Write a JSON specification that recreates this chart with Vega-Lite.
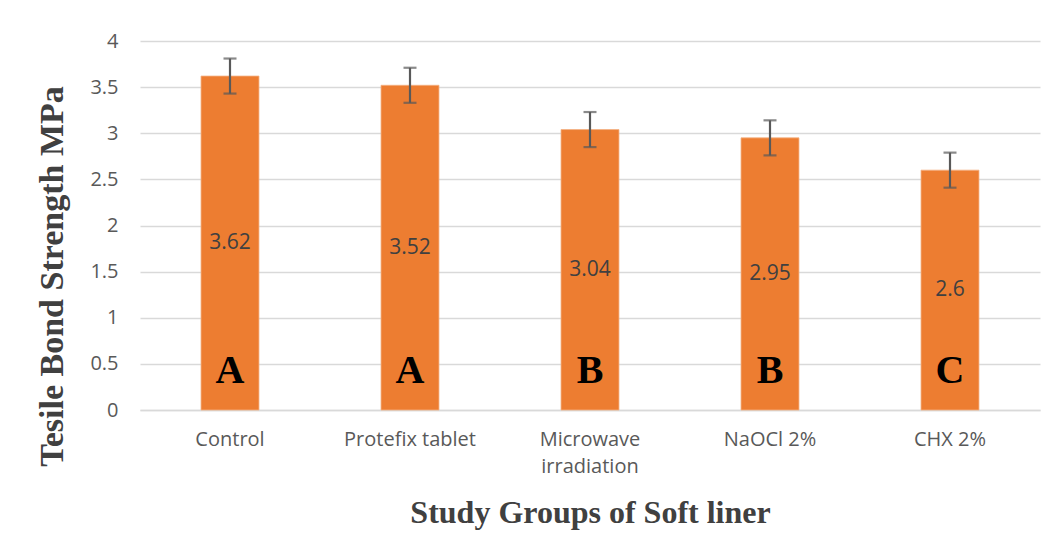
{
  "$schema": "https://vega.github.io/schema/vega-lite/v6.json",
  "autosize": "none",
  "width": 900,
  "height": 369,
  "padding": {"left": 140, "top": 41, "right": 22, "bottom": 145},
  "background": "white",
  "config": {"view": {"stroke": null}},
  "data": {"values": [
    {"group": "Control", "value": 3.62, "err": 0.19, "letter": "A"},
    {"group": "Protefix tablet", "value": 3.52, "err": 0.19, "letter": "A"},
    {"group": "Microwave irradiation", "value": 3.04, "err": 0.19, "letter": "B"},
    {"group": "NaOCl 2%", "value": 2.95, "err": 0.19, "letter": "B"},
    {"group": "CHX 2%", "value": 2.6, "err": 0.19, "letter": "C"}
  ]},
  "resolve": {"scale": {"y": "independent"}},
  "encoding": {
    "x": {
      "field": "group", "type": "nominal", "sort": null,
      "scale": {"paddingInner": 0.678, "paddingOuter": 0.339},
      "axis": {
        "title": "Study Groups of Soft liner",
        "titleFont": "Liberation Serif", "titleFontSize": 32, "titleFontWeight": "bold",
        "titleColor": "#404040", "titleY": 102, "titleBaseline": "middle",
        "labelFont": "Open Sans", "labelFontSize": 20, "labelColor": "#595959",
        "labelAngle": 0, "labelPadding": 19, "labelLineHeight": 27,
        "labelExpr": "datum.label == 'Microwave irradiation' ? ['Microwave', 'irradiation'] : datum.label",
        "ticks": false, "domainColor": "#d9d9d9", "domainWidth": 1.5
      }
    }
  },
  "layer": [
    {
      "mark": {"type": "bar", "color": "#ED7D31", "stroke": "#F4B183", "strokeWidth": 0.8},
      "encoding": {
        "y": {
          "field": "value", "type": "quantitative",
          "scale": {"domain": [0, 4]},
          "axis": {
            "title": "Tesile Bond Strength MPa",
            "titleFont": "Liberation Serif", "titleFontSize": 34, "titleFontWeight": "bold",
            "titleColor": "#404040", "titleX": -88, "titleY": 235, "titleBaseline": "middle", "titleAngle": -90,
            "values": [0, 0.5, 1, 1.5, 2, 2.5, 3, 3.5, 4], "format": "~g",
            "labelFont": "Open Sans", "labelFontSize": 20, "labelColor": "#595959", "labelPadding": 22,
            "ticks": false, "domain": false,
            "gridColor": "#d9d9d9", "gridWidth": 1.5
          }
        }
      }
    },
    {
      "mark": {"type": "errorbar", "ticks": {"size": 13, "thickness": 2.2}, "rule": {"strokeWidth": 2.2}, "color": "#595959"},
      "encoding": {
        "y": {"field": "value", "type": "quantitative", "scale": {"domain": [0, 4]}, "axis": null},
        "yError": {"field": "err"}
      }
    },
    {
      "mark": {"type": "text", "font": "Open Sans", "fontSize": 21, "color": "#404040", "baseline": "middle"},
      "encoding": {
        "y": {"field": "value", "type": "quantitative", "scale": {"domain": [0, 8]}, "axis": null},
        "text": {"field": "value", "type": "quantitative", "format": "~g"}
      }
    },
    {
      "mark": {"type": "text", "font": "Liberation Serif", "fontSize": 40, "fontWeight": "bold", "color": "black", "baseline": "middle"},
      "encoding": {
        "y": {"datum": 0.42, "type": "quantitative", "scale": {"domain": [0, 4]}, "axis": null},
        "text": {"field": "letter"}
      }
    }
  ]
}
